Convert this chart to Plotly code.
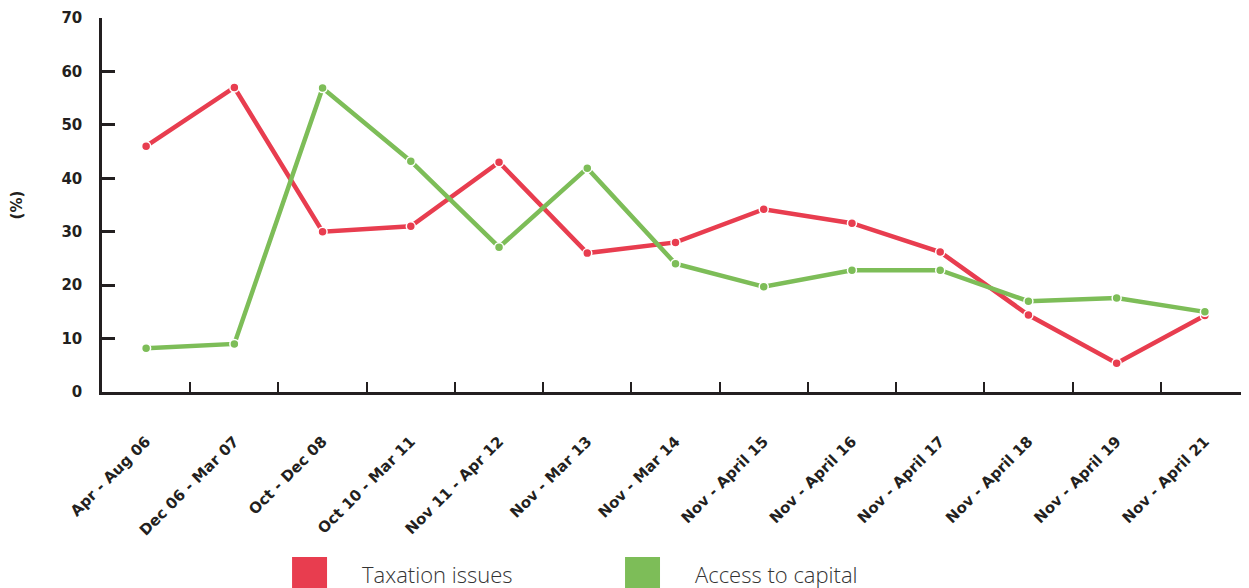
import plotly.graph_objects as go

periods = [
    'Apr - Aug 06', 'Dec 06 - Mar 07', 'Oct - Dec 08', 'Oct 10 - Mar 11',
    'Nov 11 - Apr 12', 'Nov - Mar 13', 'Nov - Mar 14', 'Nov - April 15',
    'Nov - April 16', 'Nov - April 17', 'Nov - April 18', 'Nov - April 19',
    'Nov - April 21'
]
taxation = [46, 57, 30, 31, 43, 26, 28, 34.2, 31.6, 26.2, 14.4, 5.4, 14.3]
capital = [8.2, 9, 56.9, 43.2, 27.1, 41.9, 24, 19.7, 22.8, 22.8, 17, 17.6, 15]
y_ticks = [0, 10, 20, 30, 40, 50, 60, 70]

RED = '#E83D4F'
GREEN = '#7DBD58'
AXIS = '#231F20'
BOLD = 'DejaVu Sans, sans-serif'
LIGHT = 'Open Sans, Lato, sans-serif'

fig = go.Figure()
for name, vals, color in [('Taxation issues', taxation, RED),
                          ('Access to capital', capital, GREEN)]:
    fig.add_trace(go.Scatter(
        x=periods,
        y=vals,
        name=name,
        mode='lines+markers',
        line=dict(color=color, width=4.5),
        marker=dict(size=9, color=color, line=dict(color='white', width=1.5)),
        showlegend=False
    ))

tick_font = dict(size=15, family=BOLD, weight='bold', color=AXIS)

# page body adds an 8px margin, so the figure is 8px smaller than the window
fig.update_layout(
    width=1241,
    height=580,
    plot_bgcolor='#ffffff',
    paper_bgcolor='#ffffff',
    margin=dict(l=94, r=0, t=10, b=196),
    font=dict(family=BOLD, color=AXIS),
    xaxis=dict(
        range=[-0.5, 12.5],
        showline=True, linecolor=AXIS, linewidth=2.5,
        ticks='inside', tickson='boundaries', ticklen=10, tickwidth=2,
        tickcolor=AXIS, tickangle=-45, showgrid=False,
        tickfont=tick_font,
        ticklabelstandoff=32
    ),
    yaxis=dict(
        range=[0, 70], tickvals=y_ticks,
        showline=True, linecolor=AXIS, linewidth=2.5,
        ticks='inside', ticklen=13, tickwidth=2.5, tickcolor=AXIS,
        showgrid=False, zeroline=False,
        tickfont=tick_font,
        ticklabelstandoff=14,
        title=dict(text='(%)', font=tick_font, standoff=36)
    )
)

legend_items = [('Taxation issues', RED, 0.1657), ('Access to capital', GREEN, 0.456)]
for text, color, x0 in legend_items:
    fig.add_shape(type='rect', xref='paper', yref='paper',
                  x0=x0, x1=x0 + 0.0305, y0=-0.56, y1=-0.441,
                  fillcolor=color, line=dict(width=0))
    fig.add_annotation(xref='paper', yref='paper', x=x0 + 0.0593, y=-0.486,
                       text=text, showarrow=False, xanchor='left', yanchor='middle',
                       font=dict(size=22, family=LIGHT, weight=300, color='#333333'))

fig.write_html('out.html')
